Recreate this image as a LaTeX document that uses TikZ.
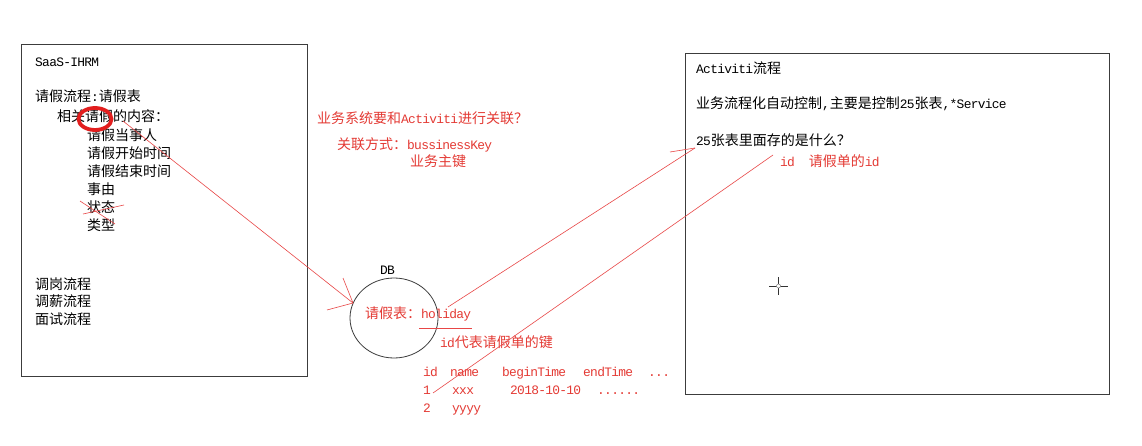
\documentclass[tikz,border=0pt]{standalone}
\usepackage{fontspec}
\setmainfont{Noto Sans CJK SC}
\newfontfamily\lm[Scale=0.92,LetterSpace=-5.5]{Liberation Mono}
\newcommand\A[1]{{\lm #1}}
\newcommand\fs{\fontsize{14}{16}\selectfont}
\usetikzlibrary{shapes.geometric}
\definecolor{redtxt}{RGB}{228,58,52}
\definecolor{redln}{RGB}{232,70,70}
\definecolor{boxgray}{RGB}{60,60,60}
\definecolor{marker}{RGB}{226,30,30}
\begin{document}
\begin{tikzpicture}[x=1pt,y=-1pt,
  txt/.style={anchor=west,inner sep=0pt,font=\fs,text height=11pt,text depth=3pt},
  rtxt/.style={txt,text=redtxt},
  box/.style={draw=boxgray,line width=0.8pt},
  redline/.style={draw=redln,line width=0.6pt}]
\useasboundingbox (0,0) rectangle (1142,446);
\fill[white] (0,0) rectangle (1142,446);

% boxes
\draw[box] (21,44) rectangle (307,376);
\draw[box] (685,53) rectangle (1109,394);

% left box text
\node[txt] (saas) at (35,63) {\A{SaaS-IHRM}};
\node[txt] (qjlc) at (35,98) {请假流程\A{:}请假表};
\node[txt] (xg) at (57,118) {相关请假的内容：};
\node[txt] (i1) at (87,137) {请假当事人};
\node[txt] (i2) at (87,155) {请假开始时间};
\node[txt] (i3) at (87,173) {请假结束时间};
\node[txt] (i4) at (87,191) {事由};
\node[txt] (i5) at (87,209) {状态};
\node[txt] (i6) at (87,227) {类型};
\node[txt] (p1) at (35,285) {调岗流程};
\node[txt] (p2) at (35,302) {调薪流程};
\node[txt] (p3) at (35,320) {面试流程};

% red marker circle and strike
\draw[draw=marker,line width=3.8pt] (95,119) ellipse [x radius=16.5, y radius=11];
\coordinate (s1a) at (80,201); \coordinate (s1b) at (115,224);
\coordinate (s2a) at (83,214); \coordinate (s2b) at (124,205);
\draw[redline] (s1a) -- (s1b);
\draw[redline] (s2a) -- (s2b);

% middle red text
\node[rtxt] (q1) at (317,120) {业务系统要和\A{Activiti}进行关联？};
\node[rtxt] (q2) at (337,146) {关联方式：\A{bussinessKey}};
\node[rtxt] (q3) at (410,163) {业务主键};

% DB
\node[draw=boxgray,line width=0.8pt,ellipse,minimum width=88,minimum height=80,inner sep=0pt] (db) at (394,318) {};
\node[txt] (dbl) at (380,270) {\A{DB}};
\node[rtxt] (hol) at (365,314) {请假表：\A{holiday}};
\coordinate (ula) at (419,328); \coordinate (ulb) at (472,328);
\draw[redline] (ula) -- (ulb);
\node[rtxt] (idk) at (440,343) {\A{id}代表请假单的键};

% table
\node[rtxt] (h1) at (423,372) {\A{id}};
\node[rtxt] (h2) at (450,372) {\A{name}};
\node[rtxt] (h3) at (502,372) {\A{beginTime}};
\node[rtxt] (h4) at (583,372) {\A{endTime}};
\node[rtxt] (h5) at (648,372) {\A{...}};
\node[rtxt] (r11) at (423,390) {\A{1}};
\node[rtxt] (r12) at (452,390) {\A{xxx}};
\node[rtxt] (r13) at (510,390) {\A{2018-10-10}};
\node[rtxt] (r14) at (597,390) {\A{......}};
\node[rtxt] (r21) at (423,408) {\A{2}};
\node[rtxt] (r22) at (452,408) {\A{yyyy}};

% right box text
\node[txt] (act) at (696,70) {\A{Activiti}流程};
\node[txt] (ctl) at (696,105) {业务流程化自动控制\A{,}主要是控制\A{25}张表\A{,*Service}};
\node[txt] (q25) at (696,142) {\A{25}张表里面存的是什么？};
\node[rtxt] (idq) at (780,163) {\A{id}\hspace{14pt}请假单的\A{id}};

% connectors
\coordinate (a1s) at (123,121); \coordinate (a1t) at (353,303);
\coordinate (a1b1) at (343,278); \coordinate (a1b2) at (327,310);
\draw[redline] (a1s) -- (a1t);
\draw[redline] (a1b1) -- (a1t) -- (a1b2);

\coordinate (a2s) at (448,307); \coordinate (a2t) at (695,148);
\coordinate (a2b) at (670,152);
\draw[redline] (a2s) -- (a2t);
\draw[redline] (a2b) -- (a2t);

\coordinate (a3s) at (433,393); \coordinate (a3t) at (773,155);
\draw[redline] (a3s) -- (a3t);

% cursor
\coordinate (cc) at (778.5,286);
\draw[black!80,line width=0.9pt] (769,286) -- (788,286);
\draw[black!80,line width=0.9pt] (778.5,277) -- (778.5,295);
\fill[white] (cc) circle (2);
\draw[black!50,line width=0.5pt] (cc) circle (2);
\end{tikzpicture}
\end{document}
